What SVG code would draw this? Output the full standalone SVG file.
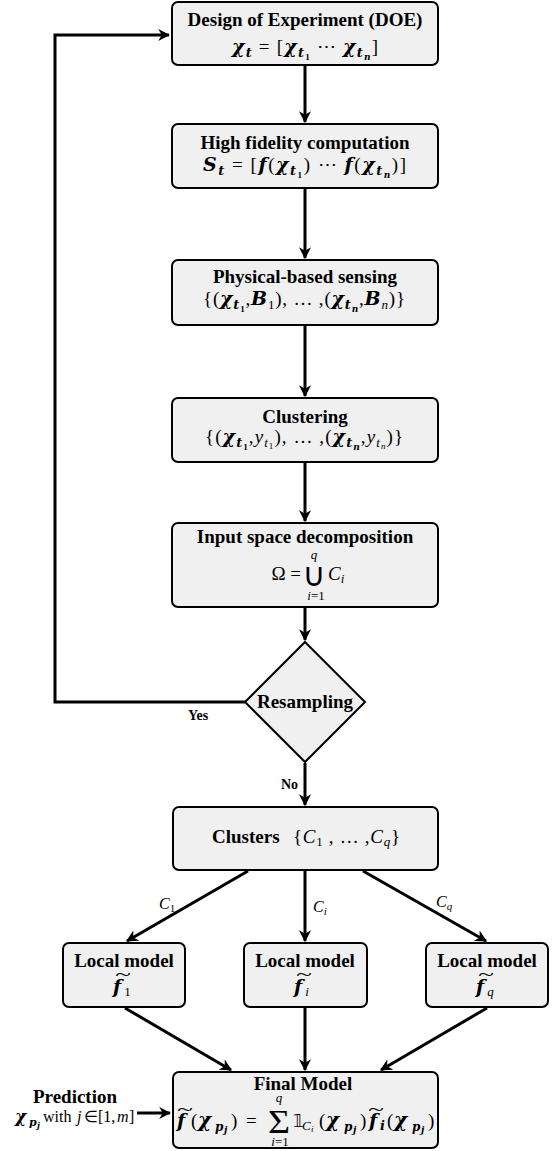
<svg xmlns="http://www.w3.org/2000/svg" width="555" height="1151" viewBox="0 0 555 1151">
<style>
.box{fill:#f0f0f0;stroke:#000;stroke-width:2}
.t{font-family:"Liberation Serif","Times New Roman",serif;font-weight:bold;font-size:19px;text-anchor:middle;fill:#000}
.m{font-family:"Liberation Serif","Times New Roman",serif;font-size:19px;fill:#000}
.c{text-anchor:middle}
.bm{font-family:"DejaVu Serif",serif;font-weight:bold;font-style:italic}
.b{font-weight:bold}
.it{font-style:italic}
.s{font-size:13px}
.ss{font-size:9px}
.lbl{font-family:"Liberation Serif","Times New Roman",serif;font-size:14px;fill:#000}
.line{fill:none;stroke:#000;stroke-width:3}
.tl{font-family:"Liberation Serif",serif;font-size:17px;fill:#000;text-anchor:middle}
.cup{font-family:"DejaVu Sans",sans-serif;font-size:33px;fill:#000;text-anchor:middle}
.sig{font-family:"Liberation Serif","DejaVu Serif",serif;font-size:33px;fill:#000;text-anchor:middle}
</style>
<defs>
<marker id="ah" viewBox="0 0 10 10" refX="9" refY="5" markerWidth="4" markerHeight="4" orient="auto" markerUnits="strokeWidth">
<path d="M0,0 L10,5 L0,10 L3,5 z" fill="#000"/>
</marker>
</defs>

<g id="connectors">
<line class="line" x1="305" y1="66" x2="305" y2="122" marker-end="url(#ah)"/>
<line class="line" x1="305" y1="189" x2="305" y2="258" marker-end="url(#ah)"/>
<line class="line" x1="305" y1="326" x2="305" y2="396" marker-end="url(#ah)"/>
<line class="line" x1="305" y1="463" x2="305" y2="521" marker-end="url(#ah)"/>
<line class="line" x1="305" y1="608" x2="305" y2="640" marker-end="url(#ah)"/>
<polyline class="line" points="245,702 55,702 55,35 169,35" marker-end="url(#ah)"/>
<text class="lbl b" x="198" y="720" text-anchor="middle">Yes</text>
<line class="line" x1="305" y1="763" x2="305" y2="805" marker-end="url(#ah)"/>
<text class="lbl b" x="298" y="789" text-anchor="end">No</text>
<line class="line" x1="248" y1="871" x2="127" y2="941" marker-end="url(#ah)"/>
<line class="line" x1="305" y1="871" x2="305" y2="941" marker-end="url(#ah)"/>
<line class="line" x1="363" y1="871" x2="486" y2="941" marker-end="url(#ah)"/>
<text class="m it" x="159" y="909" style="font-size:16px">C<tspan dy="3" style="font-style:normal;font-size:11px">1</tspan></text>
<text class="m it" x="313" y="912" style="font-size:16px">C<tspan dy="3" style="font-size:11px">i</tspan></text>
<text class="m it" x="436" y="907" style="font-size:16px">C<tspan dy="3" style="font-size:11px">q</tspan></text>
<line class="line" x1="125" y1="1008" x2="231" y2="1070" marker-end="url(#ah)"/>
<line class="line" x1="305" y1="1008" x2="305" y2="1070" marker-end="url(#ah)"/>
<line class="line" x1="487" y1="1008" x2="381" y2="1070" marker-end="url(#ah)"/>
<line class="line" x1="137" y1="1113" x2="170" y2="1113" marker-end="url(#ah)"/>
</g>

<g id="doe">
<rect class="box" x="172" y="2" width="266" height="63" rx="6"/>
<text class="t" x="305" y="26">Design of Experiment (DOE)</text>
<text class="m" x="232" y="53" textLength="146" lengthAdjust="spacing"><tspan class="bm">χ</tspan><tspan class="bm s" dy="4">t</tspan><tspan dy="-4"> = [</tspan><tspan class="bm">χ</tspan><tspan class="bm s" dy="4">t</tspan><tspan class="b ss" dy="3">1</tspan><tspan dy="-7"> ⋯ </tspan><tspan class="bm">χ</tspan><tspan class="bm s" dy="4">t</tspan><tspan class="bm ss" dy="3">n</tspan><tspan dy="-7">]</tspan></text>
</g>

<g id="hifi">
<rect class="box" x="172" y="124" width="266" height="64" rx="6"/>
<text class="t" x="305" y="149">High fidelity computation</text>
<text class="m" x="203" y="171" textLength="203" lengthAdjust="spacing"><tspan class="bm">S</tspan><tspan class="bm s" dy="4">t</tspan><tspan dy="-4"> = [</tspan><tspan class="bm">f</tspan>(<tspan class="bm">χ</tspan><tspan class="bm s" dy="4">t</tspan><tspan class="b ss" dy="3">1</tspan><tspan dy="-7">) ⋯ </tspan><tspan class="bm">f</tspan>(<tspan class="bm">χ</tspan><tspan class="bm s" dy="4">t</tspan><tspan class="bm ss" dy="3">n</tspan><tspan dy="-7">)]</tspan></text>
</g>

<g id="sensing">
<rect class="box" x="172" y="260" width="266" height="65" rx="6"/>
<text class="t" x="305" y="283">Physical-based sensing</text>
<text class="m" x="203" y="305" textLength="202" lengthAdjust="spacing">{(<tspan class="bm">χ</tspan><tspan class="bm s" dy="4">t</tspan><tspan class="b ss" dy="3">1</tspan><tspan dy="-7">,</tspan><tspan class="bm">B</tspan><tspan class="s" dy="4">1</tspan><tspan dy="-4">), … ,(</tspan><tspan class="bm">χ</tspan><tspan class="bm s" dy="4">t</tspan><tspan class="bm ss" dy="3">n</tspan><tspan dy="-7">,</tspan><tspan class="bm">B</tspan><tspan class="it s" dy="4">n</tspan><tspan dy="-4">)}</tspan></text>
</g>

<g id="clustering">
<rect class="box" x="172" y="398" width="266" height="64" rx="6"/>
<text class="t" x="305" y="423">Clustering</text>
<text class="m" x="205" y="443" textLength="198" lengthAdjust="spacing">{(<tspan class="bm">χ</tspan><tspan class="bm s" dy="4">t</tspan><tspan class="b ss" dy="3">1</tspan><tspan dy="-7">,</tspan><tspan class="it">y</tspan><tspan class="it s" dy="4">t</tspan><tspan class="ss" dy="2">1</tspan><tspan dy="-6">), … ,(</tspan><tspan class="bm">χ</tspan><tspan class="bm s" dy="4">t</tspan><tspan class="bm ss" dy="3">n</tspan><tspan dy="-7">,</tspan><tspan class="it">y</tspan><tspan class="it s" dy="4">t</tspan><tspan class="it ss" dy="2">n</tspan><tspan dy="-6">)}</tspan></text>
</g>

<g id="decomposition">
<rect class="box" x="172" y="523" width="266" height="84" rx="6"/>
<text class="t" x="305" y="543">Input space decomposition</text>
<text class="m it c" x="314" y="559" style="font-size:13px">q</text>
<text class="m" x="301" y="580" style="text-anchor:end">Ω =</text>
<text class="cup" transform="translate(314,586) scale(0.95,1)">∪</text>
<text class="m" x="328" y="580"><tspan class="it">C</tspan><tspan class="it s" dy="3">i</tspan></text>
<text class="m s c" x="316" y="600"><tspan class="it">i</tspan>=1</text>
</g>

<g id="resampling">
<polygon points="305,642 365,702 305,762 245,702" fill="#f0f0f0" stroke="#000" stroke-width="2"/>
<text class="t" x="305" y="708">Resampling</text>
</g>

<g id="clusters">
<rect class="box" x="173" y="807" width="265" height="63" rx="6"/>
<text class="m b" x="212" y="843">Clusters</text>
<text class="m" x="293" y="843" textLength="107" lengthAdjust="spacing">{<tspan class="it">C</tspan><tspan class="s" dy="3">1</tspan><tspan dy="-3"> , … ,</tspan><tspan class="it">C</tspan><tspan class="it s" dy="3">q</tspan><tspan dy="-3">}</tspan></text>
</g>

<g id="local1">
<rect class="box" x="63" y="943" width="122" height="64" rx="6"/>
<text class="t" x="124" y="967">Local model</text>
<text class="tl" transform="translate(123,980) scale(1.7,1)">~</text>
<text class="m" x="113" y="993"><tspan class="bm">f</tspan><tspan class="s" dx="3" dy="3">1</tspan></text>
</g>

<g id="locali">
<rect class="box" x="244" y="943" width="123" height="64" rx="6"/>
<text class="t" x="305" y="967">Local model</text>
<text class="tl" transform="translate(304,980) scale(1.7,1)">~</text>
<text class="m" x="294" y="993"><tspan class="bm">f</tspan><tspan class="it s" dx="3" dy="3">i</tspan></text>
</g>

<g id="localq">
<rect class="box" x="426" y="943" width="122" height="64" rx="6"/>
<text class="t" x="487" y="967">Local model</text>
<text class="tl" transform="translate(486,980) scale(1.7,1)">~</text>
<text class="m" x="476" y="993"><tspan class="bm">f</tspan><tspan class="it s" dx="3" dy="3">q</tspan></text>
</g>

<g id="final">
<rect class="box" x="173" y="1072" width="265" height="76" rx="6"/>
<text class="t" x="303" y="1090">Final Model</text>
<text class="tl" transform="translate(185,1115) scale(1.7,1)">~</text>
<text class="m"><tspan class="bm" x="177" y="1127">f</tspan><tspan x="191" y="1127">(</tspan><tspan class="bm" x="198" y="1127" style="font-size:20px">χ</tspan><tspan class="bm" x="215" y="1131" style="font-size:12px">p</tspan><tspan class="bm" x="224" y="1133" style="font-size:9px">j</tspan><tspan x="231" y="1127">)</tspan><tspan x="246" y="1127">=</tspan></text>
<text class="m it c" x="279" y="1102" style="font-size:13px">q</text>
<text class="sig" transform="translate(279,1133) scale(1.15,1)">Σ</text>
<text class="m s c" x="280" y="1146"><tspan class="it">i</tspan>=1</text>
<text class="m"><tspan x="293" y="1127" style="font-family:'DejaVu Sans',sans-serif;font-size:17px">𝟙</tspan><tspan class="it" x="302" y="1130" style="font-size:13px">C</tspan><tspan class="it" x="311" y="1132" style="font-size:9px">i</tspan><tspan x="319" y="1127">(</tspan><tspan class="bm" x="326" y="1127" style="font-size:20px">χ</tspan><tspan class="bm" x="344" y="1131" style="font-size:12px">p</tspan><tspan class="bm" x="353" y="1133" style="font-size:9px">j</tspan><tspan x="360" y="1127">)</tspan></text>
<text class="tl" transform="translate(376,1115) scale(1.7,1)">~</text>
<text class="m"><tspan class="bm" x="369" y="1127">f</tspan><tspan class="bm" x="380" y="1130" style="font-size:13px">i</tspan><tspan x="387" y="1127">(</tspan><tspan class="bm" x="394" y="1127" style="font-size:20px">χ</tspan><tspan class="bm" x="412" y="1131" style="font-size:12px">p</tspan><tspan class="bm" x="421" y="1133" style="font-size:9px">j</tspan><tspan x="428" y="1127">)</tspan></text>
</g>

<g id="prediction">
<text class="t" x="75" y="1103">Prediction</text>
<text class="m" style="font-size:16px"><tspan class="bm" x="15" y="1122" style="font-size:17px">χ</tspan><tspan class="bm" x="29" y="1126" style="font-size:11px">p</tspan><tspan class="bm" x="37" y="1128" style="font-size:8px">j</tspan><tspan x="43" y="1122">with</tspan><tspan class="it" x="77" y="1122">j</tspan><tspan x="84" y="1122">∈</tspan><tspan x="98" y="1122">[1,</tspan><tspan class="it" x="117" y="1122">m</tspan><tspan x="129" y="1122">]</tspan></text>
</g>
</svg>
